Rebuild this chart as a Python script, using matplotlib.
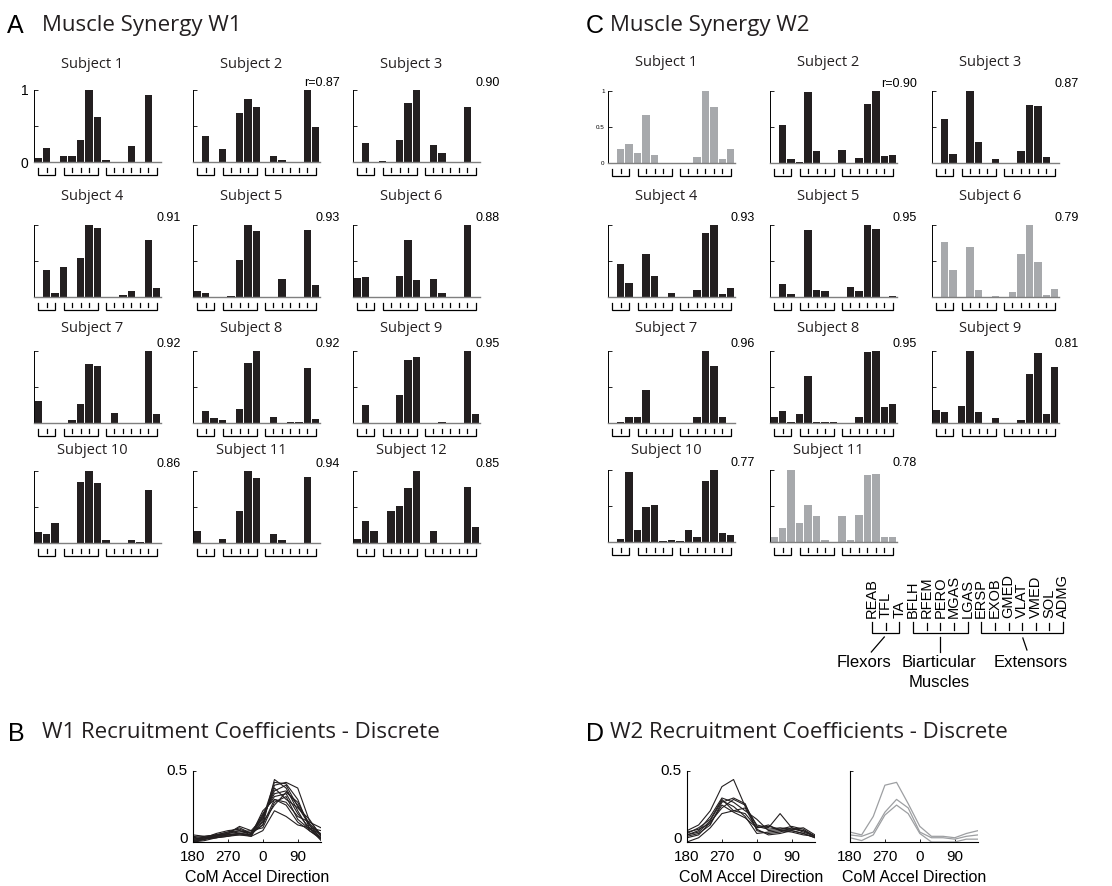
import numpy as np
import matplotlib
matplotlib.use("Agg")
import matplotlib.pyplot as plt

# ---------------------------------------------------------------- data
muscles = ["REAB", "TFL", "TA", "BFLH", "RFEM", "PERO", "MGAS", "LGAS",
           "ERSP", "EXOB", "GMED", "VLAT", "VMED", "SOL", "ADMG"]
muscle_groups = [(0, 2), (3, 7), (8, 14)]
group_names = ["Flexors", "Biarticular\nMuscles", "Extensors"]

# Synergy W1 weights, one list of 15 muscles per subject
w1_weights = [
    [0.05, 0.20, 0.00, 0.09, 0.09, 0.30, 1.00, 0.62, 0.03, 0.00, 0.00, 0.22, 0.00, 0.93, 0.00],
    [0.00, 0.36, 0.00, 0.18, 0.00, 0.68, 0.88, 0.76, 0.00, 0.09, 0.03, 0.00, 0.00, 1.00, 0.49],
    [0.00, 0.27, 0.00, 0.02, 0.00, 0.31, 0.82, 1.00, 0.00, 0.23, 0.13, 0.00, 0.00, 0.76, 0.00],
    [0.00, 0.38, 0.05, 0.41, 0.00, 0.54, 1.00, 0.96, 0.00, 0.00, 0.03, 0.09, 0.00, 0.79, 0.13],
    [0.09, 0.06, 0.00, 0.00, 0.01, 0.52, 1.00, 0.92, 0.00, 0.00, 0.25, 0.00, 0.00, 0.93, 0.16],
    [0.27, 0.28, 0.00, 0.00, 0.00, 0.29, 0.79, 0.24, 0.00, 0.25, 0.05, 0.00, 0.00, 1.00, 0.00],
    [0.30, 0.00, 0.00, 0.00, 0.04, 0.27, 0.82, 0.79, 0.00, 0.14, 0.00, 0.00, 0.00, 1.00, 0.13],
    [0.00, 0.16, 0.07, 0.04, 0.00, 0.20, 0.84, 1.00, 0.00, 0.09, 0.00, 0.02, 0.02, 0.76, 0.05],
    [0.00, 0.25, 0.00, 0.00, 0.00, 0.39, 0.87, 0.92, 0.00, 0.00, 0.02, 0.00, 0.00, 1.00, 0.13],
    [0.15, 0.13, 0.28, 0.00, 0.00, 0.85, 1.00, 0.83, 0.04, 0.00, 0.00, 0.04, 0.02, 0.74, 0.00],
    [0.17, 0.00, 0.00, 0.05, 0.00, 0.45, 1.00, 0.90, 0.00, 0.12, 0.04, 0.00, 0.00, 0.92, 0.00],
    [0.05, 0.31, 0.16, 0.00, 0.44, 0.52, 0.77, 1.00, 0.00, 0.17, 0.00, 0.00, 0.00, 0.78, 0.22],
]
w1_r = [None, 0.87, 0.90, 0.91, 0.93, 0.88, 0.92, 0.92, 0.95, 0.86, 0.94, 0.85]

# Synergy W2 weights
w2_weights = [
    [0.00, 0.20, 0.27, 0.14, 0.67, 0.11, 0.00, 0.00, 0.00, 0.00, 0.09, 1.00, 0.78, 0.05, 0.20],
    [0.00, 0.53, 0.05, 0.01, 0.98, 0.16, 0.00, 0.00, 0.18, 0.00, 0.07, 0.82, 1.00, 0.10, 0.11],
    [0.00, 0.61, 0.13, 0.00, 1.00, 0.29, 0.00, 0.06, 0.00, 0.00, 0.17, 0.80, 0.79, 0.09, 0.00],
    [0.00, 0.46, 0.19, 0.00, 0.60, 0.29, 0.00, 0.06, 0.00, 0.00, 0.10, 0.89, 1.00, 0.04, 0.13],
    [0.00, 0.18, 0.04, 0.00, 0.93, 0.10, 0.08, 0.00, 0.00, 0.14, 0.08, 1.00, 0.94, 0.00, 0.01],
    [0.00, 0.76, 0.38, 0.00, 0.69, 0.10, 0.00, 0.01, 0.00, 0.07, 0.60, 1.00, 0.49, 0.03, 0.11],
    [0.00, 0.01, 0.09, 0.09, 0.46, 0.00, 0.00, 0.00, 0.00, 0.00, 0.08, 1.00, 0.79, 0.08, 0.00],
    [0.08, 0.16, 0.02, 0.13, 0.65, 0.01, 0.01, 0.01, 0.00, 0.00, 0.09, 0.98, 1.00, 0.22, 0.27],
    [0.18, 0.15, 0.00, 0.23, 1.00, 0.15, 0.00, 0.07, 0.00, 0.00, 0.04, 0.68, 0.97, 0.13, 0.78],
    [0.00, 0.04, 0.97, 0.16, 0.48, 0.51, 0.01, 0.03, 0.01, 0.16, 0.07, 0.85, 1.00, 0.12, 0.10],
    [0.07, 0.19, 1.00, 0.26, 0.52, 0.36, 0.03, 0.00, 0.36, 0.03, 0.38, 0.93, 0.95, 0.07, 0.07],
]
w2_r = [None, 0.90, 0.87, 0.93, 0.95, 0.79, 0.96, 0.95, 0.81, 0.77, 0.78]
w2_atypical = [1, 6, 11]   # subjects whose W2 differs from the group

# Recruitment coefficients against CoM acceleration direction (deg)
directions = [180, 210, 240, 270, 300, 330, 0, 30, 60, 90, 120, 150]
direction_ticks = [180, 270, 0, 90]
coeff_ticks = [0, 0.5]

w1_coeffs = [
    [0.01, 0.03, 0.05, 0.07, 0.10, 0.06, 0.12, 0.44, 0.38, 0.22, 0.08, 0.02],
    [0.00, 0.02, 0.04, 0.06, 0.08, 0.05, 0.15, 0.40, 0.42, 0.38, 0.15, 0.05],
    [0.05, 0.04, 0.05, 0.05, 0.06, 0.04, 0.18, 0.36, 0.40, 0.25, 0.12, 0.04],
    [0.02, 0.03, 0.06, 0.08, 0.09, 0.06, 0.20, 0.32, 0.34, 0.20, 0.10, 0.03],
    [0.01, 0.02, 0.03, 0.04, 0.05, 0.05, 0.22, 0.30, 0.28, 0.18, 0.14, 0.10],
    [0.03, 0.04, 0.05, 0.06, 0.07, 0.08, 0.10, 0.28, 0.32, 0.16, 0.09, 0.06],
    [0.00, 0.01, 0.03, 0.05, 0.06, 0.05, 0.14, 0.26, 0.35, 0.28, 0.12, 0.02],
    [0.02, 0.03, 0.04, 0.05, 0.05, 0.04, 0.08, 0.22, 0.18, 0.12, 0.10, 0.08],
    [0.04, 0.03, 0.03, 0.04, 0.06, 0.07, 0.16, 0.38, 0.30, 0.24, 0.16, 0.04],
    [0.01, 0.02, 0.04, 0.06, 0.11, 0.08, 0.17, 0.42, 0.41, 0.30, 0.10, 0.01],
    [0.00, 0.02, 0.05, 0.07, 0.08, 0.06, 0.12, 0.30, 0.26, 0.14, 0.08, 0.03],
    [0.02, 0.03, 0.04, 0.05, 0.06, 0.05, 0.19, 0.34, 0.36, 0.26, 0.13, 0.05],
]

w2_coeffs = [
    [0.08, 0.12, 0.22, 0.39, 0.44, 0.25, 0.12, 0.10, 0.20, 0.10, 0.08, 0.04],
    [0.05, 0.08, 0.18, 0.31, 0.28, 0.22, 0.16, 0.08, 0.09, 0.11, 0.09, 0.04],
    [0.06, 0.10, 0.16, 0.30, 0.22, 0.20, 0.10, 0.12, 0.08, 0.08, 0.06, 0.03],
    [0.04, 0.06, 0.12, 0.28, 0.31, 0.27, 0.08, 0.06, 0.07, 0.10, 0.07, 0.04],
    [0.03, 0.05, 0.14, 0.24, 0.30, 0.26, 0.11, 0.09, 0.10, 0.09, 0.10, 0.05],
    [0.00, 0.03, 0.10, 0.20, 0.22, 0.24, 0.09, 0.05, 0.06, 0.08, 0.06, 0.03],
    [0.05, 0.07, 0.15, 0.29, 0.25, 0.18, 0.06, 0.07, 0.08, 0.07, 0.05, 0.04],
    [0.07, 0.09, 0.13, 0.26, 0.21, 0.17, 0.10, 0.11, 0.09, 0.09, 0.08, 0.04],
]

w2_coeffs_atypical = [
    [0.07, 0.05, 0.18, 0.40, 0.42, 0.27, 0.11, 0.04, 0.04, 0.03, 0.06, 0.08],
    [0.05, 0.04, 0.07, 0.21, 0.30, 0.24, 0.07, 0.03, 0.03, 0.02, 0.04, 0.05],
    [0.03, 0.01, 0.05, 0.19, 0.26, 0.20, 0.06, 0.00, 0.00, 0.00, 0.02, 0.02],
]

# ---------------------------------------------------------------- style
BLACK = "#231f20"
GRAY = "#a7a9ac"
LINE_GRAY = "#9d9fa2"
TITLE_FONT = "Open Sans"
LABEL_FONT = "Liberation Sans"

W, H = 1112, 886
fig = plt.figure(figsize=(W / 100, H / 100), dpi=100)


def px_axes(left, top, width, height):
    return fig.add_axes([left / W, 1 - (top + height) / H, width / W, height / H])


def fig_text(x, y, s, **kw):
    fig.text(x / W, 1 - y / H, s, **kw)


def draw_brackets(ax, h_px):
    tr = ax.get_xaxis_transform()
    y_top, y_mid, y_bot = -5.5 / h_px, -9.5 / h_px, -12.5 / h_px
    for a, b in muscle_groups:
        ax.plot([a, a, b, b], [y_top, y_bot, y_bot, y_top], transform=tr,
                clip_on=False, color="black", lw=0.9, solid_joinstyle="miter")
        for i in range(a + 1, b):
            ax.plot([i, i], [y_top, y_mid], transform=tr, clip_on=False,
                    color="black", lw=0.9)


def synergy_axes(left, top, values, color, subject, title_y, r, ylabel_style):
    w, h = 127, 72
    ax = px_axes(left, top, w, h)
    x = np.arange(len(muscles))
    ax.bar(x, values, width=0.88, color=color, linewidth=0)
    ax.set_xlim(-0.5, len(muscles) - 0.5)
    ax.set_ylim(0, 1)
    for s in ("top", "right"):
        ax.spines[s].set_visible(False)
    ax.spines["left"].set_linewidth(0.7)
    ax.spines["left"].set_color("black")
    ax.spines["bottom"].set_linewidth(1.0)
    ax.spines["bottom"].set_color("#7f7f7f")
    ax.set_xticks([])
    ax.set_yticks([0, 0.5, 1])
    ax.tick_params(axis="y", direction="in", length=3, width=0.6, pad=4)
    if ylabel_style == "w1":
        ax.set_yticklabels(["0", "", "1"], fontsize=10, family=LABEL_FONT)
    elif ylabel_style == "w2":
        ax.set_yticklabels(["0", "0.5", "1"], fontsize=4.5, family=LABEL_FONT)
        ax.tick_params(axis="y", pad=2.5)
    else:
        ax.set_yticklabels([])
    draw_brackets(ax, h)
    fig_text(left + w / 2 - 5, title_y, f"Subject {subject}", ha="center",
             va="center", fontsize=10.5, family=TITLE_FONT, color="#231f20")
    if r is not None:
        label = f"r={r:.2f}" if subject == 2 else f"{r:.2f}"
        fig_text(left + w + 20, top - 7, label, ha="right", va="center",
                 fontsize=9, family=LABEL_FONT)
    return ax


# ---------------------------------------------------------------- panel titles
def panel_title(x_letter, x_text, y, letter, text):
    fig_text(x_letter, y + 1, letter, ha="left", va="center", fontsize=18,
             family=LABEL_FONT)
    fig_text(x_text, y, text, ha="left", va="center", fontsize=16,
             family=TITLE_FONT, color="#231f20")


panel_title(7, 42, 25, "A", "Muscle Synergy W1")
panel_title(586, 610, 25, "C", "Muscle Synergy W2")
panel_title(8, 42, 733, "B", "W1 Recruitment Coefficients - Discrete")
panel_title(586, 610, 733, "D", "W2 Recruitment Coefficients - Discrete")

# ---------------------------------------------------------------- panel A
w1_cols = [34, 193, 353]
w1_tops = [90, 225, 351, 471]
w1_title_y = [65, 197, 328, 451]
for k, vals in enumerate(w1_weights):
    row, col = divmod(k, 3)
    synergy_axes(w1_cols[col], w1_tops[row], vals, BLACK, k + 1,
                 w1_title_y[row], w1_r[k], "w1" if k == 0 else None)

# ---------------------------------------------------------------- panel C
w2_cols = [608, 770, 932]
w2_tops = [91, 225, 351, 470]
w2_title_y = [63, 197, 328, 451]
for k, vals in enumerate(w2_weights):
    row, col = divmod(k, 3)
    color = GRAY if (k + 1) in w2_atypical else BLACK
    synergy_axes(w2_cols[col], w2_tops[row], vals, color, k + 1,
                 w2_title_y[row], w2_r[k], "w2" if k == 0 else None)

# ---------------------------------------------------------------- muscle key
pitch = 13.65
key = px_axes(872 - pitch / 2, 560, pitch * len(muscles), 140)
key.set_xlim(-0.5, len(muscles) - 0.5)
key.set_ylim(700, 560)
key.axis("off")
for i, name in enumerate(muscles):
    key.text(i, 618, name, rotation=90, ha="center", va="bottom",
             fontsize=10.5, family=LABEL_FONT)
for a, b in muscle_groups:
    key.plot([a, a, b, b], [622, 633, 633, 622], color="black", lw=0.9,
             solid_joinstyle="miter")
    for i in range(a + 1, b):
        key.plot([i, i], [622.5, 629.5], color="black", lw=0.9)
key.plot([0.9, -0.05], [637, 652], color="black", lw=0.9)
key.plot([5.0, 5.0], [637, 652], color="black", lw=0.9)
key.plot([11.05, 11.35], [638, 650], color="black", lw=0.9)
key.text(-0.55, 663, group_names[0], ha="center", va="center", fontsize=12,
         family=LABEL_FONT)
key.text(4.9, 655, group_names[1], ha="center", va="top", fontsize=12,
         family=LABEL_FONT, linespacing=1.4)
key.text(11.6, 663, group_names[2], ha="center", va="center", fontsize=12,
         family=LABEL_FONT)


# ---------------------------------------------------------------- panels B and D
def recruitment_axes(left, curves, color, lw, show_ylabels):
    ax = px_axes(left, 771, 128, 71)
    x = (np.array(directions) - 180) % 360
    for c in curves:
        ax.plot(x, c, color=color, lw=lw)
    ax.set_xlim(0, 330)
    ax.set_ylim(0, 0.5)
    for s in ("top", "right"):
        ax.spines[s].set_visible(False)
    for s in ("left", "bottom"):
        ax.spines[s].set_linewidth(0.8)
    ax.set_xticks([(t - 180) % 360 for t in direction_ticks])
    ax.set_xticklabels([str(t) for t in direction_ticks], fontsize=11,
                       family=LABEL_FONT)
    ax.set_yticks(coeff_ticks)
    ax.set_yticklabels([])
    if show_ylabels:
        # value labels sit a little above their ticks so "0" clears the x labels
        for v in coeff_ticks:
            ax.annotate(f"{v:g}", xy=(0, v), xycoords=("axes fraction", "data"),
                        xytext=(-4, 2.5 if v == 0 else 0),
                        textcoords="offset points", ha="right", va="center",
                        fontsize=11, family=LABEL_FONT, annotation_clip=False)
    else:
        ax.tick_params(axis="y", length=0)
    ax.tick_params(direction="in", length=2.5, width=0.6)
    ax.tick_params(axis="x", pad=6)
    ax.set_xlabel("CoM Accel Direction", fontsize=11.5, family=LABEL_FONT,
                  labelpad=4)
    return ax


recruitment_axes(193, w1_coeffs, "#231f20", 0.8, True)
recruitment_axes(687, w2_coeffs, "#231f20", 0.8, True)
recruitment_axes(850, w2_coeffs_atypical, LINE_GRAY, 0.9, False)

fig.savefig("out.png", dpi=100)
